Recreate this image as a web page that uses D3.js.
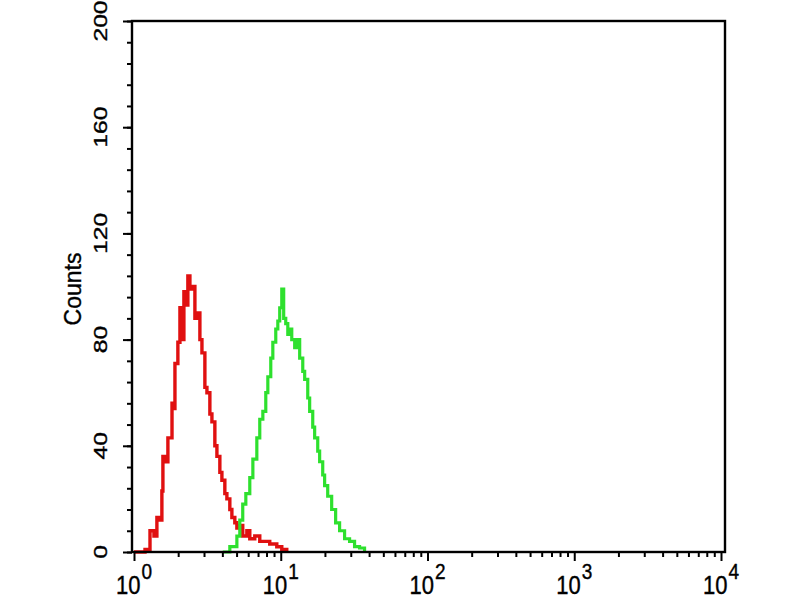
<!DOCTYPE html>
<html>
<head>
<meta charset="utf-8">
<script src="https://d3js.org/d3.v7.min.js"></script>
<style>
  body { margin: 0; background: #fff; }
  text { font-family: "Liberation Sans", Arial, sans-serif; fill: #000; stroke: #000; stroke-width: 0.35px; }
</style>
</head>
<body>
<div id="chart"></div>
<script>

// Set dimensions and plot bounds
const width = 800;
const height = 600;
const plot = {left: 132, right: 725, top: 21, bottom: 552};

// Histogram channels (log10 of fluorescence) and counts
const redLog = [0.0, 0.075, 0.109, 0.136, 0.156, 0.177, 0.19, 0.197, 0.218, 0.231,
  0.259, 0.272, 0.279, 0.299, 0.313, 0.327, 0.34, 0.354, 0.367, 0.381,
  0.401, 0.415, 0.435, 0.449, 0.463, 0.483, 0.497, 0.517, 0.531, 0.551,
  0.565, 0.585, 0.599, 0.619, 0.633, 0.653, 0.667, 0.687, 0.701, 0.721,
  0.741, 0.769, 0.789, 0.823, 0.857, 0.891, 0.925, 0.973, 1.007, 1.041];
const redCounts = [0, 1, 8, 6, 13, 12, 23, 36, 34, 43,
  56, 54, 71, 79, 92, 80, 98, 93, 104, 99,
  100, 88, 90, 80, 75, 62, 60, 52, 49, 40,
  36, 30, 27, 22, 20, 16, 13, 11, 9, 10,
  6, 8, 5, 6, 4, 4, 3, 2, 1, 0];

const greenLog = [0.605, 0.653, 0.701, 0.721, 0.741, 0.762, 0.789, 0.81, 0.837, 0.857,
  0.878, 0.898, 0.912, 0.932, 0.946, 0.966, 0.98, 0.993, 1.007, 1.02,
  1.034, 1.048, 1.061, 1.075, 1.095, 1.109, 1.129, 1.15, 1.163, 1.184,
  1.197, 1.218, 1.231, 1.252, 1.265, 1.286, 1.299, 1.32, 1.347, 1.374,
  1.401, 1.435, 1.469, 1.503, 1.537, 1.571];
const greenCounts = [0, 2, 6, 12, 18, 22, 28, 35, 43, 50,
  53, 60, 66, 73, 79, 84, 87, 92, 99, 88,
  86, 82, 84, 80, 77, 80, 73, 68, 65, 58,
  53, 47, 43, 38, 34, 29, 25, 21, 16, 11,
  8, 5, 4, 2, 1.5, 0];

// Tick values
const yMajor = [0, 40, 80, 120, 160, 200];
const yMinor = d3.range(0, 201, 8);
const xMajor = [1, 10, 100, 1000, 10000];
const xExponents = ["0", "1", "2", "3", "4"];

const svg = d3.select("#chart")
  .append("svg")
  .attr("width", width)
  .attr("height", height);

/*

  Scales

*/

const xScale = d3.scaleLog()
  .domain([1, 10000])
  .range([134, 721]);

const yScale = d3.scaleLinear()
  .domain([0, 200])
  .range([plot.bottom, plot.top]);

// minor ticks 2..9 in every decade
const xMinor = [];
xMajor.slice(0, 4).forEach(d => {
  for (let k = 2; k <= 9; k++) xMinor.push(d * k);
});

/*

  Histograms

*/

const line = d3.line()
  .x(d => xScale(Math.pow(10, d[0])))
  .y(d => yScale(d[1]))
  .curve(d3.curveStepAfter);

svg.append("path")
  .datum(d3.zip(redLog, redCounts))
  .attr("fill", "none")
  .attr("stroke", "#e01010")
  .attr("stroke-width", 3.4)
  .attr("d", line);

svg.append("path")
  .datum(d3.zip(greenLog, greenCounts))
  .attr("fill", "none")
  .attr("stroke", "#2ee02e")
  .attr("stroke-width", 3.2)
  .attr("d", line);

/*

  Axes

*/

// y minor and major ticks
svg.append("g")
  .attr("transform", `translate(${plot.left},0)`)
  .call(d3.axisLeft(yScale).tickValues(yMinor).tickSize(5).tickFormat(""))
  .call(g => g.select(".domain").remove())
  .selectAll("line").attr("stroke-width", 2);

svg.append("g")
  .attr("transform", `translate(${plot.left},0)`)
  .call(d3.axisLeft(yScale).tickValues(yMajor).tickSize(9).tickFormat(""))
  .call(g => g.select(".domain").remove())
  .selectAll("line").attr("stroke-width", 2);

// x minor and major ticks
svg.append("g")
  .attr("transform", `translate(0,${plot.bottom})`)
  .call(d3.axisBottom(xScale).tickValues(xMinor).tickSize(5).tickFormat(""))
  .call(g => g.select(".domain").remove())
  .selectAll("line").attr("stroke-width", 2);

svg.append("g")
  .attr("transform", `translate(0,${plot.bottom})`)
  .call(d3.axisBottom(xScale).tickValues(xMajor).tickSize(9).tickFormat(""))
  .call(g => g.select(".domain").remove())
  .selectAll("line").attr("stroke-width", 2);

// Frame around the plot
svg.append("rect")
  .attr("x", plot.left)
  .attr("y", plot.top)
  .attr("width", plot.right - plot.left)
  .attr("height", plot.bottom - plot.top)
  .attr("fill", "none")
  .attr("stroke", "#000")
  .attr("stroke-width", 2.4);

// y tick labels, rotated
svg.selectAll(".ylab")
  .data(yMajor)
  .enter()
  .append("text")
    .attr("class", "ylab")
    .attr("transform", d => `translate(107,${yScale(d)}) rotate(-90) scale(1.3,1)`)
    .attr("text-anchor", "middle")
    .attr("font-size", "19px")
    .text(d => d);

// y axis title
svg.append("text")
  .attr("transform", "translate(81,289) rotate(-90)")
  .attr("text-anchor", "middle")
  .attr("font-size", "23px")
  .text("Counts");

// x tick labels as powers of ten
const xlab = svg.selectAll(".xlab")
  .data(xMajor)
  .enter()
  .append("g")
    .attr("class", "xlab")
    .attr("transform", d => `translate(${xScale(d)},594) scale(1,1.18)`);

xlab.append("text")
  .attr("text-anchor", "middle")
  .attr("font-size", "22px")
  .each(function(d, i) {
    const t = d3.select(this);
    t.append("tspan").text("10");
    t.append("tspan")
      .attr("dx", 1)
      .attr("dy", -13)
      .attr("font-size", "19px")
      .text(xExponents[i]);
  });

</script>
</body>
</html>
